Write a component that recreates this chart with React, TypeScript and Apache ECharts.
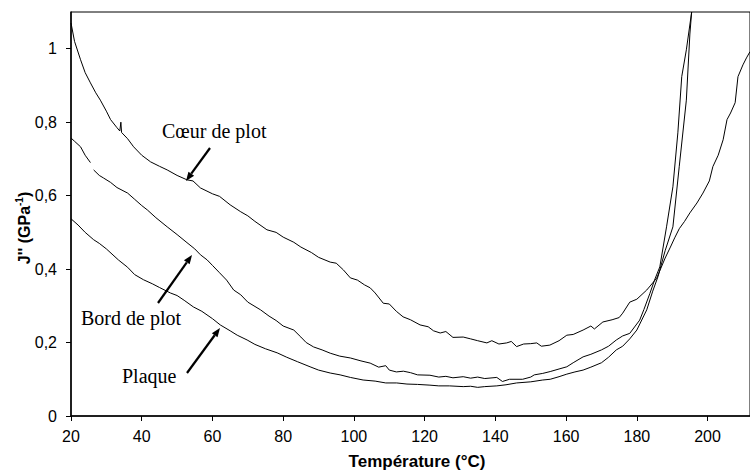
import React, { useEffect, useRef } from "react";
import * as echarts from "echarts";

// Température (°C), J'' (GPa^-1)
const coeurData: (number | null)[][] = [
  [20, 1.07], [21, 1.02], [22.7, 0.97], [24, 0.935], [25.5, 0.907], [27, 0.88], [28.3, 0.86],
  [30, 0.83], [31.2, 0.807], [33, 0.785], [33.8, 0.776], [34.1, 0.8], [34.3, 0.772], [36, 0.755],
  [37.7, 0.733], [40, 0.71], [42.5, 0.692], [45, 0.68], [47.2, 0.67], [50, 0.655], [52.8, 0.643],
  [54.5, 0.64], [56.6, 0.621], [60, 0.605], [62, 0.598], [65, 0.575], [68, 0.556], [70, 0.545],
  [72, 0.53], [75.4, 0.507], [78, 0.5], [80, 0.487], [83, 0.473], [85, 0.46], [88, 0.445],
  [90, 0.432], [93.3, 0.419], [95, 0.416], [97, 0.398], [99, 0.376], [101, 0.37], [103, 0.357],
  [104.6, 0.349], [106, 0.335], [108.3, 0.307], [110, 0.305], [112, 0.285], [113.9, 0.27],
  [116, 0.262], [118.7, 0.248], [121, 0.243], [122.5, 0.232], [124.4, 0.226], [126, 0.23],
  [128, 0.214], [130.9, 0.215], [133, 0.21], [135, 0.205], [137.6, 0.199], [139, 0.205],
  [141, 0.196], [143.2, 0.199], [144.5, 0.203], [146, 0.189], [148, 0.196], [150, 0.197],
  [151.7, 0.199], [153, 0.19], [155.4, 0.193], [158, 0.205], [160.2, 0.22], [162, 0.222],
  [164.8, 0.234], [167, 0.245], [168, 0.237], [170.4, 0.256], [173, 0.262], [175, 0.268],
  [176, 0.28], [178, 0.31], [180, 0.318], [182.8, 0.343], [185.6, 0.375], [188, 0.43],
  [189.5, 0.46], [190.7, 0.485], [192, 0.51], [193.5, 0.53], [195, 0.553], [197, 0.58],
  [198.7, 0.607], [200.5, 0.64], [201.5, 0.679], [203, 0.71], [204.4, 0.752], [205.5, 0.807],
  [206.5, 0.825], [207.8, 0.853], [208.6, 0.924], [210, 0.956], [211, 0.975], [212, 0.992],
];

const bordData: (number | null)[][] = [
  [20, 0.757], [21, 0.748], [22.7, 0.733], [24, 0.71], [25.5, 0.69], [26, null], [26.4, 0.67],
  [28, 0.655], [29.2, 0.648], [31.2, 0.636], [33, 0.622], [36, 0.607], [38, 0.59], [40, 0.573],
  [41.6, 0.561], [44, 0.54], [47.2, 0.515], [50, 0.494], [52.8, 0.472], [55, 0.455], [56.6, 0.439],
  [58.5, 0.425], [60, 0.41], [62, 0.39], [64, 0.37], [66, 0.343], [68, 0.33], [70, 0.31],
  [73.6, 0.289], [76, 0.272], [78, 0.26], [80, 0.245], [83, 0.234], [85, 0.215], [86.5, 0.2],
  [88.6, 0.188], [91, 0.18], [93.3, 0.171], [96, 0.163], [99, 0.158], [102, 0.15], [104.6, 0.144],
  [107, 0.133], [109, 0.137], [110, 0.125], [112, 0.12], [114, 0.122], [116, 0.118], [118, 0.112],
  [121.5, 0.111], [124, 0.106], [126, 0.108], [128, 0.104], [130.9, 0.107], [133, 0.103],
  [135, 0.106], [137, 0.102], [140.4, 0.105], [142, 0.094], [144, 0.1], [147.7, 0.1], [150, 0.106],
  [151, 0.112], [153.4, 0.116], [155.5, 0.121], [158, 0.128], [160.2, 0.134], [162, 0.145],
  [164.8, 0.161], [167, 0.168], [170, 0.18], [172, 0.19], [174.2, 0.207], [176, 0.218],
  [178, 0.225], [180.8, 0.261], [182, 0.29], [183.7, 0.334], [185, 0.37], [186.5, 0.406],
  [188.4, 0.515], [190.2, 0.624], [191.6, 0.771], [192.7, 0.924], [194, 0.997], [195.5, 1.1],
];

const plaqueData: (number | null)[][] = [
  [20, 0.537], [22, 0.52], [24, 0.5], [26.4, 0.48], [28, 0.47], [30, 0.455], [33.4, 0.425],
  [36, 0.405], [38, 0.385], [40.5, 0.371], [43, 0.36], [45, 0.35], [48.1, 0.335], [50, 0.328],
  [52, 0.315], [54.6, 0.297], [57, 0.285], [60, 0.265], [62.2, 0.248], [65, 0.232], [67, 0.22],
  [69.8, 0.207], [72, 0.195], [75, 0.183], [78.3, 0.172], [81, 0.16], [84, 0.148], [87.6, 0.134],
  [90, 0.125], [93.3, 0.117], [96.1, 0.112], [99, 0.105], [102.6, 0.098], [106, 0.095],
  [109, 0.09], [112.1, 0.09], [115, 0.087], [118, 0.086], [121.5, 0.084], [124, 0.082],
  [127, 0.082], [130.9, 0.08], [133, 0.081], [135, 0.078], [137, 0.08], [140.4, 0.082],
  [143, 0.085], [146, 0.09], [150, 0.093], [153.4, 0.098], [155.5, 0.1], [158, 0.107],
  [160.2, 0.114], [162.5, 0.12], [164.8, 0.125], [167, 0.133], [170, 0.145], [172, 0.16],
  [174.2, 0.18], [176, 0.19], [178, 0.21], [180, 0.234], [182.8, 0.289], [184.5, 0.34],
  [186, 0.38], [188, 0.45], [190.2, 0.515], [192, 0.68], [194, 0.86], [195, 1.04], [195.5, 1.1],
];

const seriesNames = ["Cœur de plot", "Bord de plot", "Plaque"];
const xTickMin = 20;
const xTickMax = 212;
const xTickStep = 20;
const yTickMin = 0;
const yTickMax = 1.1;
const yTickStep = 0.2;

function arrow(x1: number, y1: number, x2: number, y2: number) {
  const ang = Math.atan2(y2 - y1, x2 - x1);
  const len = 9;
  const half = 3.5;
  const bx = x2 - len * Math.cos(ang);
  const by = y2 - len * Math.sin(ang);
  const px = -Math.sin(ang) * half;
  const py = Math.cos(ang) * half;
  return [
    {
      type: "line",
      shape: { x1, y1, x2: bx, y2: by },
      style: { stroke: "#000", lineWidth: 2.2 },
      silent: true,
    },
    {
      type: "polygon",
      shape: { points: [[x2, y2], [bx + px, by + py], [bx - px, by - py]] },
      style: { fill: "#000" },
      silent: true,
    },
  ];
}

export default function App() {
  const ref = useRef<HTMLDivElement>(null);
  useEffect(() => {
    if (!ref.current) return;
    const chart = echarts.init(ref.current, null, { renderer: "svg" });
    const serif = "'Liberation Serif', 'Times New Roman', serif";
    const sans = "'Liberation Sans', Arial, sans-serif";
    const mkSeries = (name: string, data: (number | null)[][]) => ({
      name,
      type: "line",
      data,
      showSymbol: false,
      symbol: "none",
      connectNulls: false,
      lineStyle: { color: "#000", width: 1 },
      itemStyle: { color: "#000" },
    });
    chart.setOption({
      animation: false,
      backgroundColor: "#fff",
      grid: {
        left: 71,
        right: 0,
        top: 12,
        bottom: 56,
        show: true,
        borderColor: "#000",
        borderWidth: 1,
        backgroundColor: "transparent",
      },
      xAxis: {
        type: "value",
        min: xTickMin,
        max: xTickMax,
        interval: xTickStep,
        axisLine: { show: true, lineStyle: { color: "#000", width: 1.5 } },
        axisTick: { show: true, inside: false, length: 5, lineStyle: { color: "#000" } },
        axisLabel: {
          showMaxLabel: false,
          margin: 12,
          color: "#000",
          fontFamily: sans,
          fontSize: 16,
        },
        splitLine: { show: false },
      },
      yAxis: {
        type: "value",
        min: yTickMin,
        max: yTickMax,
        interval: yTickStep,
        axisLine: { show: true, lineStyle: { color: "#000", width: 1.5 } },
        axisTick: { show: true, inside: false, length: 5, lineStyle: { color: "#000" } },
        axisLabel: {
          showMaxLabel: false,
          margin: 14,
          color: "#000",
          fontFamily: sans,
          fontSize: 16,
          formatter: (v: number) => String(Math.round(v * 10) / 10).replace(".", ","),
        },
        splitLine: { show: false },
      },
      series: [
        mkSeries(seriesNames[0], coeurData),
        mkSeries(seriesNames[1], bordData),
        mkSeries(seriesNames[2], plaqueData),
      ],
      graphic: [
        {
          type: "text",
          x: 417,
          y: 461,
          silent: true,
          style: {
            text: "Température (°C)",
            font: `bold 17px ${sans}`,
            fill: "#000",
            align: "center",
            verticalAlign: "middle",
          },
        },
        {
          type: "text",
          x: 23,
          y: 228,
          rotation: Math.PI / 2,
          silent: true,
          style: {
            text: "{a|J'' (GPa}{s|-1}{a|)}",
            align: "center",
            verticalAlign: "middle",
            fill: "#000",
            rich: {
              a: { font: `bold 16px ${sans}`, fill: "#000", verticalAlign: "bottom", lineHeight: 18 },
              s: { font: `bold 10px ${sans}`, fill: "#000", verticalAlign: "top", lineHeight: 18 },
            },
          },
        },
        {
          type: "text",
          x: 162,
          y: 131,
          silent: true,
          style: { text: seriesNames[0], font: `20px ${serif}`, fill: "#000", align: "left", verticalAlign: "middle" },
        },
        {
          type: "text",
          x: 81,
          y: 318,
          silent: true,
          style: { text: seriesNames[1], font: `20px ${serif}`, fill: "#000", align: "left", verticalAlign: "middle" },
        },
        {
          type: "text",
          x: 122,
          y: 376,
          silent: true,
          style: { text: seriesNames[2], font: `20px ${serif}`, fill: "#000", align: "left", verticalAlign: "middle" },
        },
        ...arrow(210, 148, 186, 181),
        ...arrow(158, 303, 192, 255),
        ...arrow(187, 373, 220, 328),
      ],
    });
    return () => chart.dispose();
  }, []);
  return <div ref={ref} style={{ width: 750, height: 472, position: "absolute", left: 0, top: 0 }} />;
}
